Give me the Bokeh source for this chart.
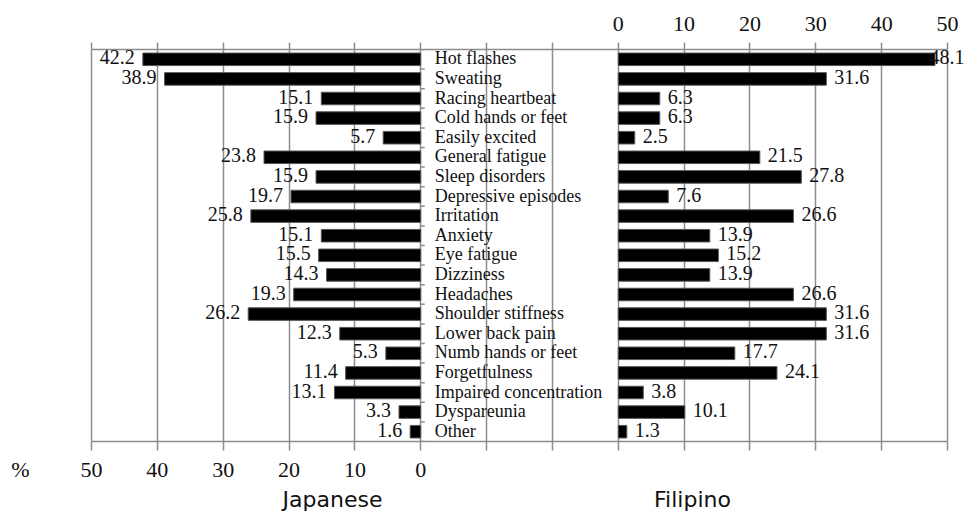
from bokeh.plotting import figure
from bokeh.models import (ColumnDataSource, Range1d, LinearAxis, FixedTicker, LabelSet)
from bokeh.embed import file_html
from bokeh.resources import INLINE

categories = ["Hot flashes", "Sweating", "Racing heartbeat", "Cold hands or feet", "Easily excited",
              "General fatigue", "Sleep disorders", "Depressive episodes", "Irritation", "Anxiety",
              "Eye fatigue", "Dizziness", "Headaches", "Shoulder stiffness", "Lower back pain",
              "Numb hands or feet", "Forgetfulness", "Impaired concentration", "Dyspareunia", "Other"]
japanese = [42.2, 38.9, 15.1, 15.9, 5.7, 23.8, 15.9, 19.7, 25.8, 15.1,
            15.5, 14.3, 19.3, 26.2, 12.3, 5.3, 11.4, 13.1, 3.3, 1.6]
filipino = [48.1, 31.6, 6.3, 6.3, 2.5, 21.5, 27.8, 7.6, 26.6, 13.9,
            15.2, 13.9, 26.6, 31.6, 31.6, 17.7, 24.1, 3.8, 10.1, 1.3]
left_ticks = [50, 40, 30, 20, 10, 0]
right_ticks = [0, 10, 20, 30, 40, 50]
group_titles = ["Japanese", "Filipino"]
unit_label = "%"
gap = 30  # width of the label column, in axis units

SERIF = "Liberation Serif"
SANS = "DejaVu Sans"
GRID = "#8c8c8c"
INK = "#111111"

W, H = 964, 516
n = len(categories)
xmin, xmax = -max(left_ticks), gap + max(right_ticks)
left_px, right_px, top_px, bottom_px = 91, 947, 49, 441
ppu = (right_px - left_px) / (xmax - xmin)
x_start = xmin - left_px / ppu
x_end = xmax + (W - right_px) / ppu

def px_to_x(px):
    return xmin + (px - left_px) / ppu

ys = list(range(n))
src = ColumnDataSource(dict(
    y=ys, cat=categories,
    jl=[-v for v in japanese], jt=[f"{v:.1f}" for v in japanese],
    fs=[gap] * n, fe=[gap + v for v in filipino], ft=[f"{v:.1f}" for v in filipino],
))

fsize = 20
offs = []
for v, t in zip(filipino, src.data["ft"]):
    end_px = left_px + (gap + v - xmin) * ppu
    est_w = fsize * (0.5 * sum(c.isdigit() for c in t) + 0.25 * t.count("."))
    offs.append(min(8, W - est_w - end_px))
src.data["foff"] = offs

p = figure(width=W, height=H, output_backend="svg", toolbar_location=None,
           x_range=Range1d(x_start, x_end), y_range=Range1d(n - 0.5, -0.5),
           x_axis_location=None, y_axis_location=None,
           min_border_left=0, min_border_right=0, min_border_top=top_px,
           min_border_bottom=H - bottom_px)
p.outline_line_color = None
p.background_fill_color = "white"
p.border_fill_color = "white"

all_ticks = list(range(xmin, xmax + 1, 10))
p.xgrid.ticker = FixedTicker(ticks=all_ticks)
p.xgrid.grid_line_color = GRID
p.xgrid.grid_line_width = 1.5
p.ygrid.grid_line_color = None

def style_axis(ax, tick_out, standoff, font, size, line=True):
    ax.axis_line_color = GRID if line else None
    ax.axis_line_width = 1.5
    ax.major_tick_line_color = GRID if line else None
    ax.major_tick_line_width = 1.5
    ax.major_tick_out = tick_out
    ax.major_tick_in = 0
    ax.minor_tick_line_color = None
    ax.major_label_text_font = font
    ax.major_label_text_font_size = size
    ax.major_label_text_color = INK
    ax.major_label_standoff = standoff
    return ax

# top axis: Filipino scale
top_ax = LinearAxis(ticker=FixedTicker(ticks=all_ticks), bounds=(xmin, xmax))
top_ax.major_label_overrides = {t: (str(t - gap) if t >= gap else "") for t in all_ticks}
style_axis(top_ax, 7, 12, SERIF, "22px")
p.add_layout(top_ax, "above")

# bottom axis line and ticks
line_ax = LinearAxis(ticker=FixedTicker(ticks=all_ticks), bounds=(xmin, xmax))
line_ax.major_label_overrides = {t: "" for t in all_ticks}
style_axis(line_ax, 9, 0, SERIF, "0px")
p.add_layout(line_ax, "below")

# bottom tick labels: Japanese scale plus unit
pct_x = px_to_x(20)
lab_ticks = [pct_x] + [-t for t in left_ticks]
lab_ax = LinearAxis(ticker=FixedTicker(ticks=lab_ticks))
over = {pct_x: unit_label}
over.update({-t: str(t) for t in left_ticks})
lab_ax.major_label_overrides = over
style_axis(lab_ax, 0, 6, SERIF, "22px", line=False)
p.add_layout(lab_ax, "below")

# group titles
title_pos = [px_to_x(332), px_to_x(692)]
title_ax = LinearAxis(ticker=FixedTicker(ticks=title_pos))
title_ax.major_label_overrides = dict(zip(title_pos, group_titles))
style_axis(title_ax, 0, 2, SANS, "22px", line=False)
p.add_layout(title_ax, "below")

bh = 0.64
p.hbar(y="y", left="jl", right=0, height=bh, source=src,
       fill_color="black", line_color="#555555", line_width=1)
p.hbar(y="y", left="fs", right="fe", height=bh, source=src,
       fill_color="black", line_color="#555555", line_width=1)

# small ticks on the category axis
bounds = [i - 0.5 for i in range(n + 1)]
p.segment(x0=[0] * len(bounds), x1=[4 / ppu] * len(bounds), y0=bounds, y1=bounds,
          line_color=GRID, line_width=1.5)

p.add_layout(LabelSet(x="jl", y="y", text="jt", source=src, x_offset=-8, y_offset=2,
                      text_align="right", text_baseline="middle",
                      text_font=SERIF, text_font_size=f"{fsize}px", text_color=INK))
p.add_layout(LabelSet(x="fe", y="y", text="ft", source=src, x_offset="foff", y_offset=2,
                      text_align="left", text_baseline="middle",
                      text_font=SERIF, text_font_size=f"{fsize}px", text_color=INK))
p.add_layout(LabelSet(x=0, y="y", text="cat", source=src, x_offset=14, y_offset=1,
                      text_align="left", text_baseline="middle",
                      text_font=SERIF, text_font_size="18px", text_color=INK))

open("out.html", "w").write(file_html(p, INLINE))
